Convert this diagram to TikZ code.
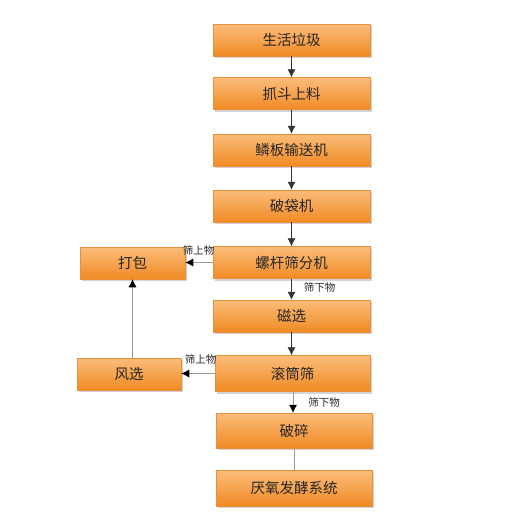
\documentclass[tikz,border=0pt]{standalone}
\usepackage{fontspec}
\setmainfont{Noto Sans CJK SC}
\usetikzlibrary{arrows.meta,shadows}
\definecolor{boxtop}{HTML}{FBBD7A}
\definecolor{boxbot}{HTML}{F08A24}
\definecolor{boxedge}{HTML}{E8913A}
\definecolor{txt}{HTML}{262626}
\tikzset{
  proc/.style={draw=boxedge, line width=0.5pt, top color=boxtop, bottom color=boxbot,
    minimum width=157pt, minimum height=32pt, inner sep=0pt, text=txt,
    font=\fontsize{14.5}{16}\selectfont,
    drop shadow={shadow xshift=2pt, shadow yshift=-2pt, opacity=0.35, fill=gray}},
  flow/.style={draw=black!80, line width=0.6pt, -{Latex[length=8pt,width=8pt]}},
  side/.style={draw=gray!80, line width=0.6pt, -{Latex[length=8pt,width=8pt,color=black]}},
  plain/.style={draw=gray!80, line width=0.6pt},
  lbl/.style={font=\fontsize{10.5}{11}\selectfont, text=txt, inner sep=0pt}
}
\begin{document}
\begin{tikzpicture}[x=1pt,y=-1pt]
\useasboundingbox (0,0) rectangle (521,512);
\node[proc] (a) at (291.5,40) {生活垃圾};
\node[proc] (b) at (291.5,93.5) {抓斗上料};
\node[proc] (c) at (291.5,150) {鳞板输送机};
\node[proc] (d) at (291.5,206) {破袋机};
\node[proc] (e) at (291.5,262.5) {螺杆筛分机};
\node[proc, minimum width=105pt] (pack) at (132.5,263) {打包};
\node[proc] (f) at (291.5,316) {磁选};
\node[proc, minimum width=155pt, minimum height=36pt] (g) at (292.5,373.5) {滚筒筛};
\node[proc, minimum width=104pt] (wind) at (129,374) {风选};
\node[proc, minimum width=156pt, minimum height=35pt] (h) at (294,430.5) {破碎};
\node[proc, minimum width=156pt, minimum height=36pt] (i) at (294,488) {厌氧发酵系统};

\draw[flow] (a) -- (b);
\draw[flow] (b) -- (c);
\draw[flow] (c) -- (d);
\draw[flow] (d) -- (e);
\draw[flow] (e) -- (f);
\draw[flow] (f.south) -- (f.south |- g.north);
\draw[side] (g.south -| h.north) ++(-1,0) coordinate (gs) -- (gs |- h.north);
\draw[plain] (h) -- (i);
\draw[side] (e.west) -- (pack.east |- e.west);
\draw[side] (g.west) -- (wind.east |- g.west);
\draw[side] (pack.south |- wind.north) -- (pack.south);

\node[lbl] (l1) at (198.5,250.5) {筛上物};
\node[lbl] (l2) at (319.5,287.5) {筛下物};
\node[lbl] (l3) at (200.5,359) {筛上物};
\node[lbl] (l4) at (324,402) {筛下物};
\end{tikzpicture}
\end{document}
